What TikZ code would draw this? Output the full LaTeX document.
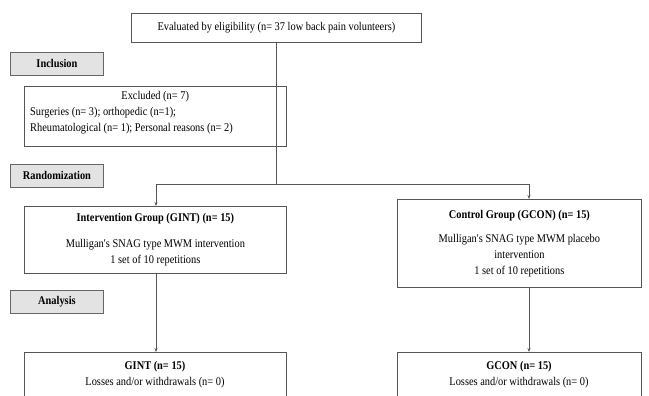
\documentclass[tikz,border=0pt]{standalone}
\usepackage{fontspec}
\setmainfont{Liberation Serif}[FakeStretch=0.88]
\usetikzlibrary{arrows.meta,calc}
\definecolor{linec}{HTML}{555555}
\definecolor{grayfill}{HTML}{E3E3E3}
\newcommand{\apos}{\textquotesingle}
\tikzset{
  x=1pt,y=-1pt,
  txt/.style={font=\fontsize{11.8}{16}\selectfont, text=black},
  box/.style={draw=linec, line width=0.8pt, fill=white, anchor=north west, inner sep=0pt, txt, align=center},
  tag/.style={draw=linec!90, line width=0.9pt, fill=grayfill, anchor=north west, inner sep=0pt,
              minimum width=93pt, minimum height=23pt, font=\fontsize{11.8}{16}\selectfont\bfseries},
  conn/.style={draw=linec, line width=0.8pt},
  arr/.style={conn, -{Stealth[length=4pt,width=3pt]}},
}
\begin{document}
\begin{tikzpicture}
\useasboundingbox (0,0) rectangle (649,396);
\begin{scope}
\clip (0,0) rectangle (649,396);
% top box
\node[box, minimum width=290pt, minimum height=29pt] (top) at (131,13) {Evaluated by eligibility (n= 37 low back pain volunteers)};
% stage tags
\node[tag] (incl) at (10,52) {Inclusion};
\node[tag] (rand) at (10,164) {Randomization};
\node[tag] (anal) at (10,290) {Analysis};
% excluded
\node[box, minimum width=262pt, minimum height=60pt] (excl) at (24,86) {};
\node[txt, align=left, anchor=north west, inner sep=0pt] (excltxt) at (30,91)
  {\makebox[250pt][c]{Excluded (n= 7)}\\ Surgeries (n= 3); orthopedic (n=1);\\ Rheumatological (n= 1); Personal reasons (n= 2)};
% groups
\node[box, minimum width=262pt, minimum height=67pt] (gint) at (24,206)
  {\textbf{Intervention Group (GINT) (n= 15)}\\[10pt] Mulligan\apos s SNAG type MWM intervention\\ 1 set of 10 repetitions};
\node[box, minimum width=244pt, minimum height=88pt] (gcon) at (397,199)
  {\textbf{Control Group (GCON) (n= 15)}\\[8pt] Mulligan\apos s SNAG type MWM placebo\\ intervention\\ 1 set of 10 repetitions};
% analysis boxes (cut by the page bottom)
\node[box, minimum width=262pt, minimum height=70pt] (bgint) at (24,352) {};
\node[txt, anchor=north, inner sep=0pt, align=center] (bginttxt) at (155,361) {\textbf{GINT (n= 15)}\\ Losses and/or withdrawals (n= 0)};
\node[box, minimum width=244pt, minimum height=70pt] (bgcon) at (397,352) {};
\node[txt, anchor=north, inner sep=0pt, align=center] (bgcontxt) at (519,361) {\textbf{GCON (n= 15)}\\ Losses and/or withdrawals (n= 0)};
\end{scope}
% connectors
\coordinate (jl) at (156,184);
\coordinate (jr) at (529,184);
\draw[conn] (top.south) -- (top.south |- jl);
\draw[conn] (jl) -- (jr);
\draw[arr] (jl) -- (gint.north -| jl);
\draw[arr] (jr) -- (gcon.north -| jr);
\draw[arr] (gint.south -| jl) -- (bgint.north -| jl);
\draw[arr] (gcon.south -| jr) -- (bgcon.north -| jr);
\end{tikzpicture}
\end{document}
